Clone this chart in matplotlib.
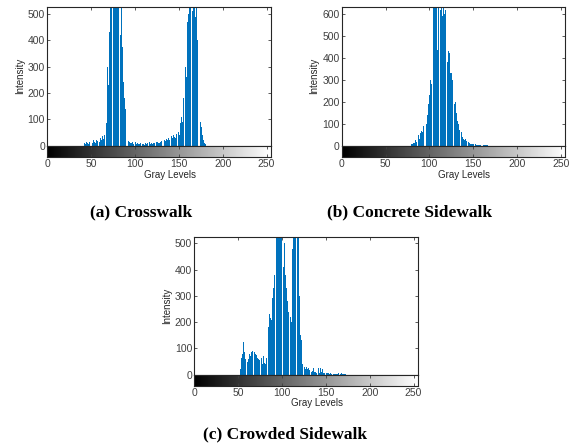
import matplotlib.pyplot as plt
import numpy as np

plt.rcParams['font.family'] = ['Liberation Sans', 'DejaVu Sans']

# histogram counts, one value per gray level starting at *_start
a_start = 40
a_counts = [0, 8, 5, 10, 6, 12, 8, 5, 14, 10, 18, 12, 8, 20, 15, 10, 22, 18, 30, 25,
            15, 28, 20, 35, 25, 40, 110, 160, 85, 300, 230, 433, 560, 620, 700, 580, 650, 720, 600, 680,
            540, 610, 560, 530, 420, 525, 375, 240, 180, 140, 110, 60, 30, 18, 12, 10, 8, 12, 6, 10,
            7, 12, 5, 9, 6, 4, 8, 5, 7, 4, 6, 3, 8, 5, 10, 6, 9, 12, 7, 10,
            6, 11, 8, 13, 9, 12, 15, 10, 8, 14, 18, 12, 20, 15, 22, 18, 25, 20, 28, 22,
            30, 25, 35, 28, 40, 32, 30, 45, 38, 60, 50, 40, 85, 110, 88, 180, 253, 220, 300, 260,
            470, 500, 540, 600, 560, 580, 510, 600, 530, 490, 550, 400, 480, 490, 200, 90, 70, 40, 20, 10,
            5, 3, 2]

b_start = 78
b_counts = [2, 3, 5, 8, 12, 10, 25, 18, 45, 35, 50, 30, 55, 65, 60, 90, 70, 80, 60, 100,
            140, 190, 230, 300, 280, 250, 420, 650, 700, 640, 720, 435, 750, 700, 660, 620, 680, 590, 650, 600,
            620, 460, 400, 380, 430, 420, 330, 330, 300, 250, 210, 190, 200, 150, 110, 100, 70, 60, 75, 63,
            40, 30, 25, 30, 20, 18, 12, 15, 10, 8, 9, 6, 7, 5, 4, 5, 3, 4, 3, 2,
            3, 2, 2, 1, 2, 1, 1, 1, 1]

c_start = 50
c_counts = [0, 5, 25, 20, 65, 80, 125, 85, 60, 55, 40, 50, 60, 80, 70, 85, 90, 95, 88, 85,
            80, 75, 65, 60, 55, 50, 45, 65, 40, 70, 45, 40, 65, 150, 205, 180, 230, 215, 210, 290,
            330, 380, 560, 600, 540, 650, 580, 620, 540, 600, 520, 560, 411, 500, 380, 330, 280, 240, 210, 200,
            220, 200, 480, 560, 600, 580, 650, 560, 600, 540, 300, 150, 132, 40, 37, 25, 30, 22, 28, 20,
            25, 18, 15, 20, 12, 15, 25, 10, 12, 8, 20, 10, 25, 8, 25, 10, 20, 8, 6, 5,
            7, 6, 5, 6, 4, 5, 4, 5, 3, 4, 3, 4, 2, 3, 8, 3, 6, 3, 5, 2,
            3, 2, 2, 1]

panels = [
    ("(a) Crosswalk", a_start, a_counts, 527, [0, 100, 200, 300, 400, 500]),
    ("(b) Concrete Sidewalk", b_start, b_counts, 632, [0, 100, 200, 300, 400, 500, 600]),
    ("(c) Crowded Sidewalk", c_start, c_counts, 525, [0, 100, 200, 300, 400, 500]),
]

# pixel boxes: left, right, top, zero line, colorbar bottom, caption x, caption y
boxes = [
    (47.1, 271.0, 7.0, 145.5, 157.0, 141, 212),
    (341.7, 565.3, 7.0, 145.5, 157.0, 410, 212),
    (194.3, 418.0, 236.7, 374.7, 386.0, 285, 434),
]

W, H = 570, 447
fig = plt.figure(figsize=(W / 100, H / 100), dpi=100)
tick_color = '#404040'
edge_color = '#262626'

for (title, start, counts, ytop, yticks), (l, r, t, z, cb, cx, cy) in zip(panels, boxes):
    levels = np.arange(start, start + len(counts))

    ax = fig.add_axes([l / W, 1 - z / H, (r - l) / W, (z - t) / H])
    ax.bar(levels, counts, width=0.85, color='#0072BD', linewidth=0)
    ax.set_xlim(0, 255)
    ax.set_ylim(0, ytop)
    ax.set_yticks(yticks)
    ax.set_xticks([0, 50, 100, 150, 200, 250])
    ax.tick_params(direction='in', length=2.5, width=0.6, colors=tick_color,
                   labelsize=7.5, pad=1.5, top=True, right=True, bottom=False,
                   labelbottom=False)
    for s in ax.spines.values():
        s.set_color(edge_color)
        s.set_linewidth(0.8)
    ax.set_ylabel("Intensity", fontsize=7, color='#262626', labelpad=2)

    cax = fig.add_axes([l / W, 1 - cb / H, (r - l) / W, (cb - z) / H])
    cax.imshow(np.arange(256)[None, :], cmap='gray', aspect='auto',
               extent=(0, 255, 0, 1), vmin=0, vmax=255)
    cax.set_xlim(0, 255)
    cax.set_ylim(0, 1)
    cax.set_yticks([])
    cax.set_xticks([0, 50, 100, 150, 200, 250])
    cax.tick_params(direction='in', length=2.5, width=0.6, colors=tick_color,
                    labelsize=7.5, pad=1.2, top=True)
    for s in cax.spines.values():
        s.set_color(edge_color)
        s.set_linewidth(0.8)

    # label sits a little right of centre, as in the original
    fig.text((l + r) / 2 / W + 11 / W, 1 - (cb + 17.5) / H, "Gray Levels",
             fontsize=7, color='#262626', ha='center', va='center')

    fig.text(cx / W, 1 - cy / H, title, fontsize=12.5, fontweight='bold',
             family='Liberation Serif', ha='center', va='center')

fig.savefig("out.png", dpi=100)
